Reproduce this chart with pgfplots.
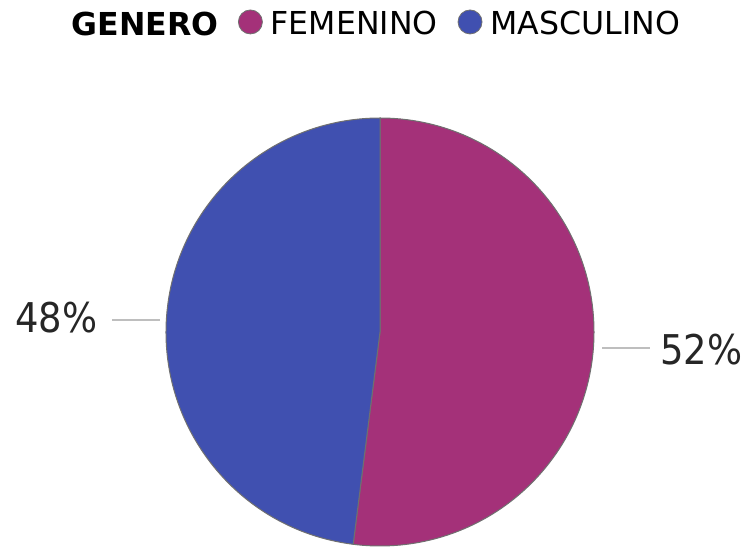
\documentclass[border=0pt]{standalone}
\usepackage{pgfplots}
\pgfplotsset{compat=1.18}
\usepackage{pgfplotstable}
\usepackage{fontspec}
\setmainfont{DejaVu Sans}
\newfontfamily\condfont{DejaVu Sans Condensed}
\definecolor{fem}{RGB}{164,49,121}
\definecolor{mas}{RGB}{64,80,176}
\definecolor{edge}{RGB}{112,112,112}
\definecolor{leader}{RGB}{190,190,190}
\pgfplotstableread{
label value
FEMENINO 52
MASCULINO 48
}\piedata
\begin{document}
\begin{tikzpicture}
\pgfplotstablegetelem{0}{value}\of\piedata \let\vA\pgfplotsretval
\pgfplotstablegetelem{1}{value}\of\piedata \let\vB\pgfplotsretval
\pgfmathsetmacro{\aA}{90-3.6*\vA}
\pgfmathsetmacro{\aB}{\aA-3.6*\vB}
\begin{axis}[width=749bp,height=549bp,scale only axis,
  xmin=0,xmax=749,ymin=0,ymax=549,hide axis,clip=false,
  legend columns=-1,
  legend style={draw=none,fill=none,inner sep=0pt,outer sep=0pt,
    at={(axis cs:238,526)},anchor=west,
    font=\fontsize{31.6bp}{38bp}\selectfont,
    nodes={inner sep=0pt},
    /tikz/every odd column/.append style={column sep=8bp},
    /tikz/every even column/.append style={column sep=20bp}},
  legend image code/.code={\fill[#1,draw=edge,line width=0.8bp] (12bp,2bp) circle (12bp);},
]
\path (rel axis cs:0,0) rectangle (rel axis cs:1,1);
\addlegendimage{fill=fem}
\addlegendentry{FEMENINO}
\addlegendimage{fill=mas}
\addlegendentry{MASCULINO}
\fill[fem,draw=edge,line width=1bp] (axis cs:380,217) -- ++(90:214bp) arc[start angle=90,end angle=\aA,radius=214bp] -- cycle;
\fill[mas,draw=edge,line width=1bp] (axis cs:380,217) -- ++(\aA:214bp) arc[start angle=\aA,end angle=\aB,radius=214bp] -- cycle;
\draw[leader,line width=1.5bp] (axis cs:602,201) -- (axis cs:650,201);
\draw[leader,line width=1.5bp] (axis cs:112,229) -- (axis cs:160,229);
\node[anchor=base west,inner sep=0pt,font=\condfont\fontsize{41bp}{48bp}\selectfont,text=black!85] at (axis cs:660,184) {\vA\%};
\node[anchor=base west,inner sep=0pt,font=\condfont\fontsize{41bp}{48bp}\selectfont,text=black!85] at (axis cs:15,216) {\vB\%};
\node[anchor=base west,inner sep=0pt,font=\bfseries\fontsize{31.6bp}{38bp}\selectfont] at (axis cs:71.7,513) {GENERO};
\end{axis}
\end{tikzpicture}
\end{document}
